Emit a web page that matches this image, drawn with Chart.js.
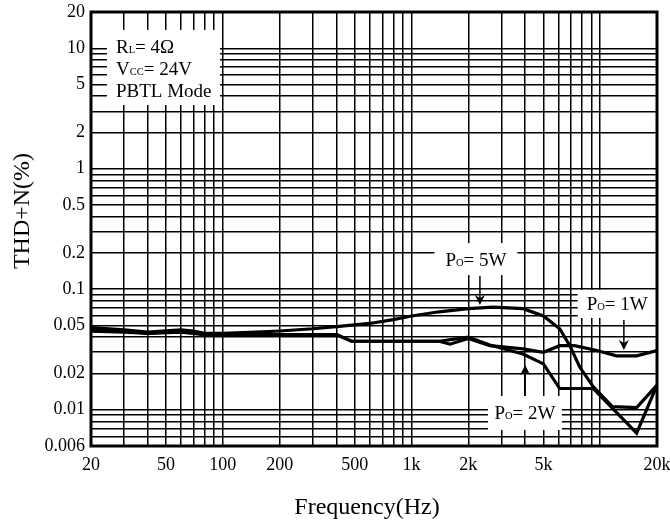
<!DOCTYPE html>
<html>
<head>
<meta charset="utf-8">
<title>THD+N vs Frequency</title>
<script src="https://cdn.jsdelivr.net/npm/chart.js@4.4.1/dist/chart.umd.min.js"></script>
<style>
  html, body { margin: 0; padding: 0; background: #fff; }
  #wrap { width: 670px; height: 523px; }
</style>
</head>
<body>
<div id="wrap"><canvas id="thd-chart" width="670" height="523"></canvas></div>
<script>
// THD+N (%) against frequency (Hz), one curve per output power
var freq5W = [20, 30, 40, 60, 70, 80, 100, 150, 200, 300, 400, 600, 800, 1000, 1400, 2000, 2700, 3900, 5000, 6100, 6900, 7800, 9200, 11600, 15600, 20000];
var thd5W  = [0.048, 0.046, 0.044, 0.046, 0.045, 0.043, 0.043, 0.044, 0.045, 0.047, 0.049, 0.052, 0.056, 0.060, 0.065, 0.069, 0.071, 0.069, 0.060, 0.047, 0.034, 0.0225, 0.0155, 0.0106, 0.0104, 0.016];

var freq2W = [20, 30, 40, 60, 80, 100, 200, 300, 400, 480, 800, 1000, 1400, 2000, 2600, 3900, 5000, 6100, 9200, 15600, 20000];
var thd2W  = [0.045, 0.044, 0.043, 0.045, 0.042, 0.042, 0.042, 0.042, 0.042, 0.037, 0.037, 0.037, 0.037, 0.040, 0.0345, 0.029, 0.024, 0.015, 0.015, 0.0064, 0.016];

var freq1W = [20, 30, 40, 60, 80, 100, 200, 300, 400, 480, 800, 1000, 1400, 1600, 2000, 2600, 3900, 5000, 6100, 7300, 9600, 12200, 15600, 20000];
var thd1W  = [0.046, 0.045, 0.043, 0.044, 0.042, 0.042, 0.042, 0.042, 0.042, 0.037, 0.037, 0.037, 0.037, 0.035, 0.039, 0.034, 0.032, 0.030, 0.034, 0.034, 0.031, 0.028, 0.028, 0.031];

var xTickValues = [20, 50, 100, 200, 500, 1000, 2000, 5000, 20000];
var xTickLabels = ['20', '50', '100', '200', '500', '1k', '2k', '5k', '20k'];
var yTickValues = [20, 10, 5, 2, 1, 0.5, 0.2, 0.1, 0.05, 0.02, 0.01, 0.005];
var yTickLabels = ['20', '10', '5', '2', '1', '0.5', '0.2', '0.1', '0.05', '0.02', '0.01', '0.006'];

var serif = '"Liberation Serif", "Times New Roman", serif';
Chart.defaults.font.family = serif;
Chart.defaults.color = '#000';

// grid line at every 1..9 step of each decade between min and max
function logGrid(min, max) {
    var out = [];
    for (var e = -4; e <= 5; e++) {
        for (var m = 1; m <= 9; m++) {
            var v = parseFloat((m * Math.pow(10, e)).toPrecision(3));
            if (v >= min && v <= max) out.push(v);
        }
    }
    return out;
}

function points(fs, vs) {
    return fs.map(function (f, i) { return { x: f, y: vs[i] }; });
}

// label boxes: text centre, box size and arrow, in data units
var conditions = { left: 24.3, right: 96.5, top: 14.2, bottom: 3.38 };
var powerNotes = [
    { watts: '5W', f: 2194, thd: 0.178, w: 83, h: 32, arrowF: 2304, from: 0.129, to: 0.074 },
    { watts: '1W', f: 12300, thd: 0.0755, w: 79, h: 28, arrowF: 13350, from: 0.0556, to: 0.0313 },
    { watts: '2W', f: 3990, thd: 0.0094, w: 74, h: 34, arrowF: 4000, from: 0.0130, to: 0.0235 }
];

function runWidth(c, runs) {
    var w = 0;
    runs.forEach(function (r) {
        c.font = r[1] + 'px ' + serif;
        w += c.measureText(r[0]).width;
    });
    return w;
}

function drawRuns(c, x, y, runs) {
    runs.forEach(function (r) {
        c.font = r[1] + 'px ' + serif;
        c.fillText(r[0], x, y + (r[2] || 0));
        x += c.measureText(r[0]).width;
    });
}

function drawArrow(c, x, y0, y1) {
    var dir = y1 > y0 ? 1 : -1;
    c.beginPath();
    c.moveTo(x, y0);
    c.lineTo(x, y1 - dir * 4);
    c.lineWidth = 1.5;
    c.stroke();
    c.beginPath();
    c.moveTo(x, y1);
    c.lineTo(x - 5, y1 - dir * 10);
    c.lineTo(x, y1 - dir * 7);
    c.lineTo(x + 5, y1 - dir * 10);
    c.closePath();
    c.fill();
}

var notesPlugin = {
    id: 'notes',
    beforeDatasetsDraw: function (chart) {
        var c = chart.ctx, xs = chart.scales.x, ys = chart.scales.y;
        c.save();
        c.textBaseline = 'alphabetic';

        // test conditions
        var bl = xs.getPixelForValue(conditions.left), br = xs.getPixelForValue(conditions.right);
        var bt = ys.getPixelForValue(conditions.top), bb = ys.getPixelForValue(conditions.bottom);
        c.fillStyle = '#fff';
        c.fillRect(bl, bt, br - bl, bb - bt);
        c.fillStyle = '#000';
        drawRuns(c, bl + 9, bt + 23, [['R', 19], ['L', 10.5], ['= 4\u03A9', 19]]);
        drawRuns(c, bl + 9, bt + 45.5, [['V', 19], ['CC', 10.5], ['= 24V', 19]]);
        drawRuns(c, bl + 9, bt + 67.5, [['PBTL Mode', 19]]);

        // output power labels
        powerNotes.forEach(function (n) {
            var cx = xs.getPixelForValue(n.f), cy = ys.getPixelForValue(n.thd);
            var runs = [['P', 19], ['O', 10.5], ['= ' + n.watts, 19]];
            c.fillStyle = '#fff';
            c.fillRect(cx - n.w / 2, cy - n.h / 2, n.w, n.h);
            c.fillStyle = '#000';
            c.strokeStyle = '#000';
            drawRuns(c, cx - runWidth(c, runs) / 2, cy + 6.5, runs);
            drawArrow(c, xs.getPixelForValue(n.arrowF), ys.getPixelForValue(n.from), ys.getPixelForValue(n.to));
        });
        c.restore();
    },
    afterDraw: function (chart) {
        var c = chart.ctx, a = chart.chartArea;
        c.save();
        c.strokeStyle = '#000';
        c.lineWidth = 3;
        c.strokeRect(a.left, a.top, a.right - a.left, a.bottom - a.top);

        c.fillStyle = '#000';
        c.font = '24px ' + serif;
        c.textAlign = 'center';
        c.textBaseline = 'middle';
        c.fillText('Frequency(Hz)', 367, 508);
        c.translate(23, 211);
        c.rotate(-Math.PI / 2);
        c.fillText('THD+N(%)', 0, 0);
        c.restore();
    }
};

var lineStyle = { borderColor: '#000', borderWidth: 3.2, pointRadius: 0, tension: 0, fill: false };
var xGrid = logGrid(20, 20000);
var yGrid = logGrid(0.005, 20);

var ctx = document.getElementById('thd-chart').getContext('2d');
var chart = new Chart(ctx, {
    type: 'line',
    data: {
        datasets: [
            Object.assign({ label: 'Po = 5W', data: points(freq5W, thd5W) }, lineStyle),
            Object.assign({ label: 'Po = 2W', data: points(freq2W, thd2W) }, lineStyle),
            Object.assign({ label: 'Po = 1W', data: points(freq1W, thd1W) }, lineStyle)
        ]
    },
    options: {
        responsive: false,
        animation: false,
        layout: { padding: { left: 0, right: 13, top: 12, bottom: 0 } },
        plugins: { legend: { display: false }, tooltip: { enabled: false } },
        scales: {
            x: {
                type: 'logarithmic',
                min: 20,
                max: 20000,
                afterBuildTicks: function (s) { s.ticks = xGrid.map(function (v) { return { value: v }; }); },
                afterFit: function (s) {
                    s.height = 77;
                    s.paddingLeft = 0;
                    s.paddingRight = 0;
                },
                ticks: {
                    autoSkip: false,
                    maxRotation: 0,
                    padding: 8,
                    font: { size: 18 },
                    callback: function (v) {
                        var i = xTickValues.indexOf(v);
                        return i < 0 ? '' : xTickLabels[i];
                    }
                },
                grid: { color: '#000', lineWidth: 1.5, drawTicks: false },
                border: { display: false }
            },
            y: {
                type: 'logarithmic',
                min: 0.005,
                max: 20,
                afterBuildTicks: function (s) { s.ticks = yGrid.map(function (v) { return { value: v }; }); },
                afterFit: function (s) {
                    s.width = 91;
                    s.paddingTop = 0;
                    s.paddingBottom = 0;
                },
                ticks: {
                    autoSkip: false,
                    padding: 6,
                    font: { size: 18 },
                    callback: function (v) {
                        var i = yTickValues.indexOf(v);
                        return i < 0 ? '' : yTickLabels[i];
                    }
                },
                grid: { color: '#000', lineWidth: 1.5, drawTicks: false },
                border: { display: false }
            }
        }
    },
    plugins: [notesPlugin]
});
</script>
</body>
</html>
